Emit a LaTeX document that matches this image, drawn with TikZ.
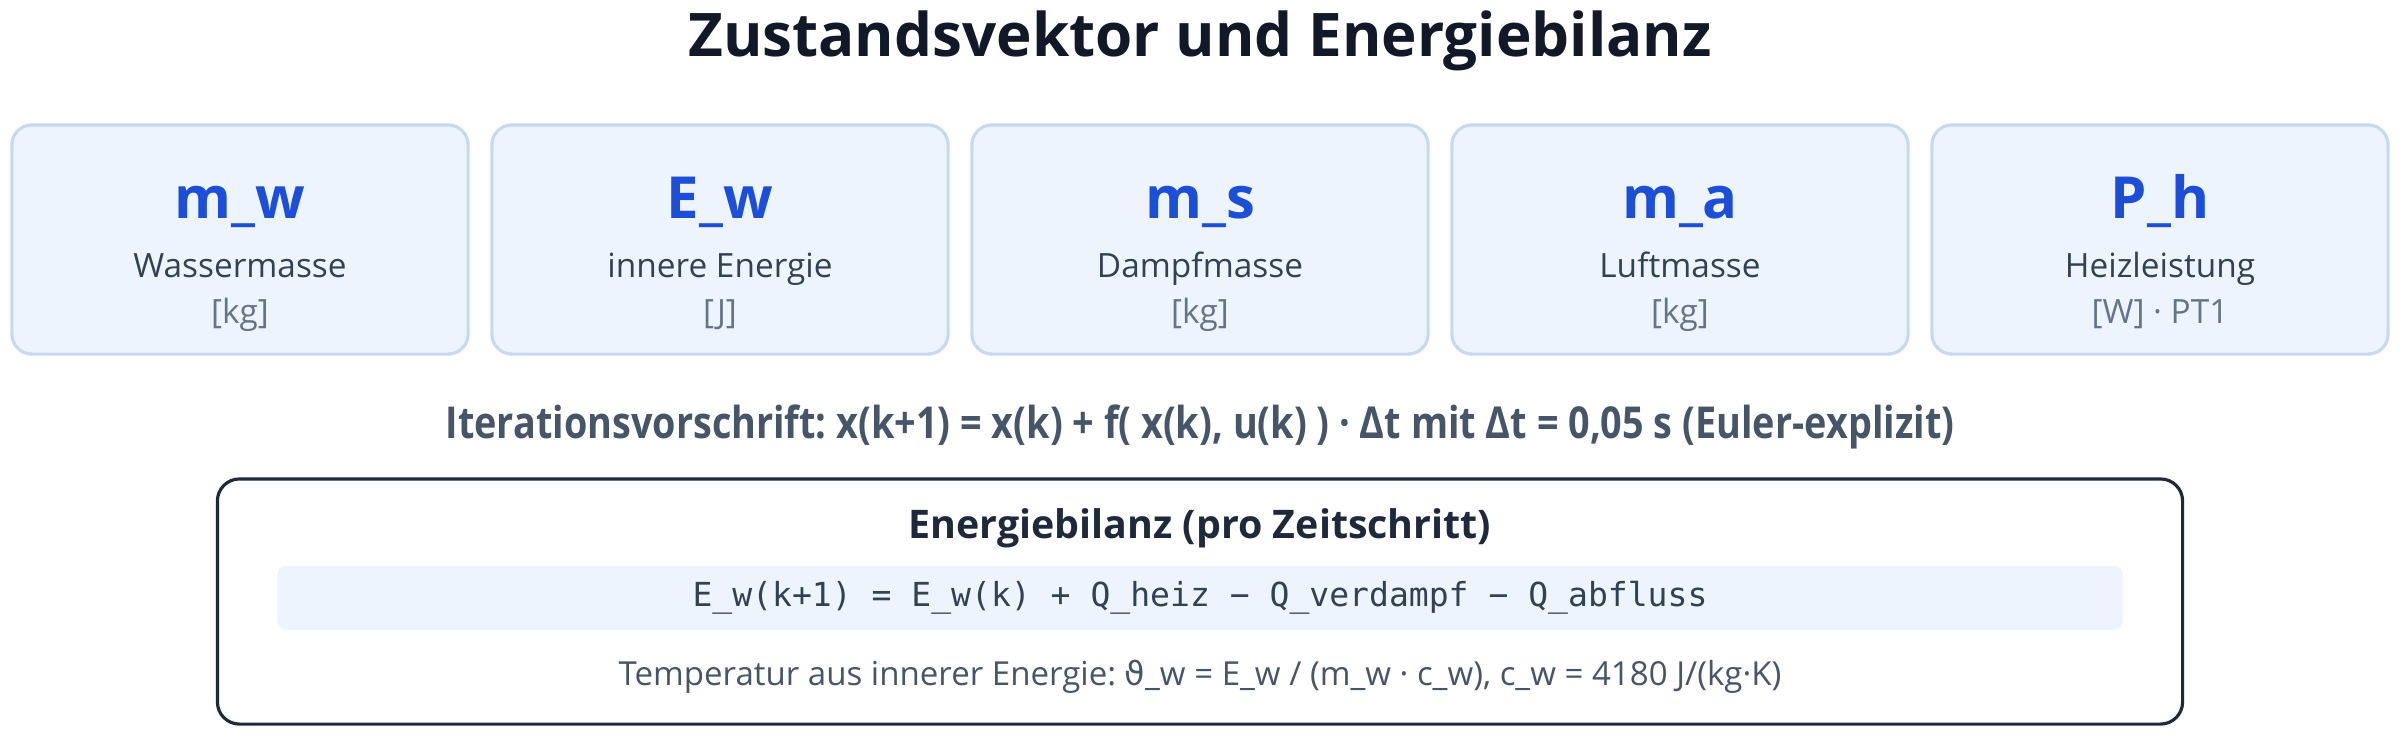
\documentclass[tikz,border=0pt]{standalone}
\usepackage{fontspec}
\setmainfont{Open Sans}
\setmonofont{DejaVu Sans Mono}
\newfontfamily\thetafont{DejaVu Sans}
\usepackage{graphicx}
\usepackage{tikz}
\frenchspacing

\definecolor{titel}{HTML}{111827}
\definecolor{symblau}{HTML}{1D4ED8}
\definecolor{randblau}{HTML}{C8D8F0}
\definecolor{fuellblau}{HTML}{EEF4FD}
\definecolor{beschr}{HTML}{334155}
\definecolor{einheit}{HTML}{64748B}
\definecolor{iter}{HTML}{475569}
\definecolor{dunkel}{HTML}{1E293B}

\begin{document}
\begin{tikzpicture}
[x=0.01cm,y=-0.01cm,
  zustand/.style={draw=randblau,fill=fuellblau,line width=0.9pt,rounded corners=0.2cm,
    minimum width=4.56cm,minimum height=2.29cm},
  symbol/.style={anchor=base,text=symblau,font=\fontsize{16.5}{20}\selectfont\bfseries},
  beschreibung/.style={anchor=base,text=beschr,font=\fontsize{9.5}{12}\selectfont},
  einheitnode/.style={anchor=base,text=einheit,font=\fontsize{9.5}{11}\selectfont}]
  \useasboundingbox (0,0) rectangle (2400,738);

  \node[anchor=base,text=titel,font=\fontsize{17.1}{20}\selectfont\bfseries] (titel) at (1200,56)
    {Zustandsvektor und Energiebilanz};

  % Zustandsgroessen
  \foreach \name/\sym/\desc/\unit/\x in {mw/m\_w/Wassermasse/[kg]/240,
      Ew/E\_w/innere Energie/[J]/720,
      ms/m\_s/Dampfmasse/[kg]/1200,
      ma/m\_a/Luftmasse/[kg]/1680,
      Ph/P\_h/Heizleistung/[W] · PT1/2160}
  {
    \node[zustand] (\name) at (\x,239.5) {};
    \node[symbol] (\name sym) at (\x,218) {\sym};
    \node[beschreibung] (\name desc) at (\x,277) {\desc};
    \node[einheitnode] (\name unit) at (\x,323) {\unit};
  }

  \node[anchor=base,text=iter,font=\fontsize{12.5}{15}\selectfont\bfseries] (vorschrift) at (1200,438)
    {\scalebox{0.86}[1]{Iterationsvorschrift: x(k+1) = x(k) + f( x(k), u(k) ) · Δt mit Δt = 0,05 s (Euler-explizit)}};

  % Energiebilanz
  \node[draw=dunkel,line width=0.9pt,rounded corners=0.22cm,minimum width=19.64cm,minimum height=2.45cm]
    (bilanz) at (1200,601.5) {};
  \node[anchor=base,text=dunkel,font=\fontsize{11.2}{13}\selectfont\bfseries] (bilanztitel) at (1200,538)
    {Energiebilanz (pro Zeitschritt)};
  \node[fill=fuellblau,rounded corners=0.08cm,minimum width=18.44cm,minimum height=0.64cm,
    text=beschr,font=\ttfamily\fontsize{9.4}{12}\selectfont] (formel) at (1200,598)
    {E\_w(k+1) = E\_w(k) + Q\_heiz − Q\_verdampf − Q\_abfluss};
  \node[anchor=base,text=iter,font=\fontsize{9.4}{11}\selectfont] (temperatur) at (1200,685)
    {Temperatur aus innerer Energie: {\thetafont ϑ}\_w = E\_w / (m\_w · c\_w), c\_w = 4180 J/(kg·K)};
\end{tikzpicture}
\end{document}
